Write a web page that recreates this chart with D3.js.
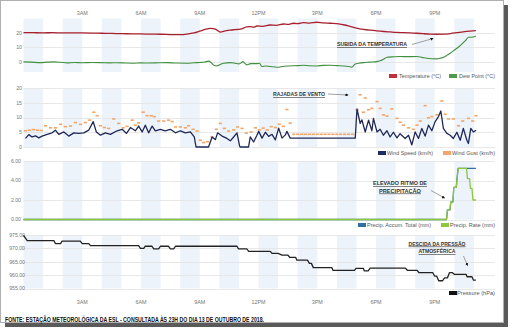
<!DOCTYPE html>
<html><head><meta charset="utf-8">
<script src="https://cdn.jsdelivr.net/npm/d3@7"></script>
<style>
html,body{margin:0;padding:0;background:#fff;}
svg{display:block;}
text{font-family:"Liberation Sans",Arial,sans-serif;}
.ann{font-family:"Liberation Sans Narrow","Liberation Sans",Arial,sans-serif;font-weight:bold;fill:#333;text-decoration:underline;}
</style></head><body>
<svg id="c" width="512" height="330"></svg>
<script>
// ---------------- DATA ----------------
const hourTicks = [3, 6, 9, 12, 15, 18, 21];
const hourLabels = ["3AM", "6AM", "9AM", "12PM", "3PM", "6PM", "9PM"];

const tempTicks = [0, 10, 20];
const windTicks = [0, 5, 10, 15, 20];
const precipTicks = [0, 2, 4, 6];
const pressTicks = [955, 960, 965, 970, 975];

const temperature = [[0,20.3],[0.5,20.2],[1,20.1],[1.5,20.2],[2,20.0],[2.5,20.1],[3,20.0],[3.5,19.9],[4,19.8],[4.5,19.7],[5,19.5],[5.5,19.4],[6,19.3],[6.5,19.2],[7,19.1],[7.5,18.9],[8,18.8],[8.35,19.2],[8.7,20.0],[9.03,21.4],[9.3,22.6],[9.54,23.2],[9.8,22.6],[10.05,20.6],[10.3,21.4],[10.56,22.0],[10.8,22.3],[11.07,22.6],[11.4,24.2],[11.58,24.4],[11.75,24.0],[11.92,24.8],[12.2,24.6],[12.6,25.5],[12.9,25.3],[13.28,26.2],[13.5,25.9],[13.79,26.7],[14.0,26.4],[14.3,27.1],[14.6,26.8],[14.98,27.4],[15.3,27.0],[15.66,26.7],[16.09,26.3],[16.4,25.5],[16.68,24.5],[17.0,23.4],[17.36,22.5],[17.7,21.9],[18.05,21.4],[18.4,21.0],[18.72,20.7],[19.05,20.4],[19.4,20.2],[19.75,20.0],[20.09,19.8],[20.4,19.5],[20.77,19.2],[21.1,19.1],[21.45,19.2],[21.8,19.6],[22.13,20.2],[22.45,20.8],[22.8,21.3],[23.1,21.6]];

const dewPoint = [[0,0],[0.4,-0.2],[0.87,-0.5],[1.2,-0.2],[1.55,0],[1.9,-0.3],[2.23,-0.7],[2.6,-0.4],[3.0,-0.6],[3.5,-0.4],[3.93,-0.5],[4.4,-0.7],[4.8,-0.6],[5.2,-0.8],[5.63,-0.9],[6.0,-0.7],[6.4,-0.8],[6.9,-0.6],[7.33,-0.5],[7.8,-0.8],[8.35,-0.9],[8.7,-0.6],[9.03,-0.4],[9.25,-0.1],[9.46,0.5],[9.6,-0.8],[9.7,-2.1],[9.88,-2.8],[10.05,-1.8],[10.22,-0.9],[10.56,-0.5],[10.8,-0.9],[10.99,-1.4],[11.1,-0.8],[11.2,0.2],[11.3,-1.0],[11.4,-2.1],[11.6,-1.2],[11.92,-1.2],[12.05,-1.0],[12.18,-3.2],[12.35,-2.8],[12.6,-3.2],[12.94,-3.7],[13.3,-3.0],[13.62,-2.8],[14.0,-2.6],[14.3,-2.3],[14.6,-2.7],[14.98,-2.8],[15.3,-2.4],[15.66,-2.3],[16.0,-2.6],[16.34,-2.8],[16.6,-3.2],[16.77,-3.7],[16.94,-1.4],[17.1,-1.0],[17.36,-0.5],[17.7,-0.2],[18.05,0.2],[18.25,0.9],[18.38,1.8],[18.56,3.2],[18.9,3.5],[19.23,3.7],[19.6,3.6],[20.09,3.7],[20.35,3.1],[20.6,2.5],[20.85,2.2],[21.1,2.1],[21.3,2.6],[21.45,3.2],[21.62,4.5],[21.79,6.0],[21.95,7.6],[22.13,9.4],[22.3,11.2],[22.46,13.3],[22.6,15.3],[22.72,17.0],[22.89,17.0],[23.1,17.9]];

const windSpeed = [[0.10,2.9],[0.27,4.2],[0.44,3.4],[0.61,3.8],[0.78,3.1],[0.95,3.7],[1.21,4.3],[1.46,4.8],[1.63,5.7],[1.80,4.3],[2.06,5.1],[2.31,3.7],[2.57,4.8],[2.82,4.6],[3.08,4.8],[3.33,5.7],[3.56,8.6],[3.72,5.1],[3.93,4.0],[4.18,4.8],[4.44,4.3],[4.78,5.5],[5.04,6.0],[5.26,4.6],[5.46,6.6],[5.71,5.5],[5.88,7.1],[6.06,5.1],[6.22,7.4],[6.39,4.8],[6.57,7.1],[6.73,5.5],[6.99,6.0],[7.24,5.5],[7.50,6.0],[7.76,4.8],[8.01,5.5],[8.27,4.8],[8.52,5.1],[8.72,3.4],[8.81,0],[9.45,0],[9.63,3.4],[9.80,2.5],[9.91,4.8],[10.14,3.7],[10.39,2.9],[10.56,2.1],[10.73,3.4],[10.90,4.8],[11.04,0.2],[11.07,0],[11.49,0],[11.58,3.4],[11.75,1.7],[11.92,4.0],[12.01,5.3],[12.18,3.0],[12.35,5.0],[12.52,3.6],[12.69,4.3],[12.86,2.4],[13.03,6.4],[13.20,3.0],[13.37,4.1],[13.45,5.3],[13.62,3.0],[16.94,3.0],[17.03,12.9],[17.19,8.0],[17.28,9.2],[17.45,5.1],[17.62,9.1],[17.79,5.5],[17.87,9.7],[18.05,5.1],[18.21,6.0],[18.38,4.0],[18.56,5.5],[18.72,3.4],[18.89,5.0],[19.07,3.1],[19.23,4.5],[19.49,2.9],[19.66,4.0],[19.83,0.7],[20.0,5.1],[20.17,2.9],[20.34,6.3],[20.51,3.7],[20.68,7.4],[20.85,5.5],[21.02,8.6],[21.19,10.3],[21.31,12.2],[21.44,6.3],[21.62,4.6],[21.79,4.0],[21.95,2.9],[22.13,5.0],[22.30,2.3],[22.46,6.3],[22.64,2.3],[22.72,1.2],[22.84,6.3],[22.97,5.1],[23.11,5.7]];

const windGust = [[0.10,5.5],[0.31,5.7],[0.51,5.9],[0.71,5.7],[0.92,5.6],[1.12,7.2],[1.38,6.5],[1.63,6.5],[1.89,7.7],[2.14,6.9],[2.40,7.1],[2.65,8.3],[2.91,7.7],[3.16,8.3],[3.38,9.1],[3.59,11.8],[3.76,10.6],[3.93,7.2],[4.13,6.6],[4.35,6.3],[4.61,9.5],[4.86,8.0],[5.09,6.5],[5.29,7.0],[5.55,9.1],[5.71,7.4],[5.88,8.2],[6.11,11.8],[6.31,10.6],[6.52,10.6],[6.68,10.3],[6.90,8.8],[7.16,8.8],[7.41,9.1],[7.59,8.6],[7.76,6.8],[8.01,6.8],[8.27,6.5],[8.43,7.2],[8.66,6.0],[8.86,5.4],[9.03,2.3],[9.20,1.5],[9.40,1.8],[9.63,3.4],[9.85,6.0],[10.05,8.0],[10.26,6.3],[10.47,5.4],[10.73,5.8],[10.93,6.8],[11.16,6.3],[11.38,4.7],[11.62,5.1],[11.84,6.5],[12.04,5.8],[12.24,6.4],[12.45,5.8],[12.65,6.9],[12.86,6.6],[13.06,7.7],[13.27,7.0],[13.45,12.7],[13.62,8.1],[13.8,4.3],[14.0,4.3],[14.2,4.3],[14.4,4.3],[14.6,4.3],[14.8,4.3],[15.0,4.3],[15.2,4.3],[15.4,4.3],[15.6,4.3],[15.8,4.3],[16.0,4.3],[16.2,4.3],[16.4,4.3],[16.6,4.3],[16.8,4.3],[17.03,12.6],[17.19,17.7],[17.36,11.8],[17.45,16.6],[17.62,12.6],[17.79,13.1],[18.05,15.4],[18.21,13.1],[18.38,10.9],[18.56,10.5],[18.81,12.9],[19.07,9.7],[19.23,8.4],[19.40,7.4],[19.66,6.5],[19.91,6.0],[20.09,7.4],[20.26,8.8],[20.51,14.0],[20.68,9.9],[20.85,10.3],[21.11,10.9],[21.36,15.6],[21.53,11.1],[21.70,9.5],[21.95,9.5],[22.21,7.2],[22.43,8.8],[22.72,9.7],[22.94,8.8],[23.11,10.6]];

const precipAccum = [[0,0],[21.6,0],[21.65,1.0],[21.78,1.0],[21.82,1.8],[21.93,1.8],[21.97,3.3],[22.1,3.3],[22.14,4.2],[22.19,5.25],[23.1,5.25]];
const precipRate = [[0,0],[21.6,0],[21.65,1.0],[21.78,1.0],[21.82,1.8],[21.93,1.8],[21.97,3.3],[22.1,3.3],[22.14,4.2],[22.2,5.25],[22.62,5.25],[22.67,4.2],[22.78,4.2],[22.82,3.2],[22.9,3.2],[22.95,2.0],[23.1,2.0]];

const pressure = [[0.0,974.9],[0.19,972.9],[1.55,972.9],[1.63,971.8],[1.89,971.8],[1.97,972.7],[2.9,972.7],[3.0,971.8],[3.33,971.8],[3.42,971.0],[5.88,971.0],[5.97,970.0],[6.14,970.0],[6.22,970.8],[6.56,970.8],[6.65,969.8],[6.9,969.8],[6.99,970.8],[7.4,970.8],[7.5,969.8],[7.67,969.8],[7.76,970.8],[10.9,970.8],[10.98,969.8],[11.4,969.8],[11.5,968.9],[12.6,968.9],[12.7,968.1],[13.0,968.1],[13.2,967.5],[13.5,967.5],[13.6,966.6],[13.9,966.6],[13.96,965.6],[14.5,965.6],[14.6,964.4],[14.7,964.4],[14.8,962.8],[15.75,962.8],[15.8,961.8],[16.9,961.8],[16.98,962.5],[17.36,962.5],[17.4,961.6],[17.6,961.6],[17.7,962.6],[19.5,962.6],[19.6,961.8],[20.1,961.8],[20.2,960.9],[20.9,960.9],[21.0,959.6],[21.1,959.6],[21.2,957.9],[21.4,957.9],[21.5,959.0],[21.65,959.0],[21.75,960.9],[21.9,960.9],[22.0,960.3],[22.6,960.3],[22.65,959.4],[22.9,959.4],[22.98,958.1],[23.1,958.1]];

// ---------------- DRAW ----------------
const svg = d3.select("#c");

// frame + shadow
svg.append("rect").attr("x",5).attr("y",5).attr("width",503).attr("height",322).attr("fill","#5a5a5a");
svg.append("rect").attr("x",0.5).attr("y",0.5).attr("width",503).attr("height",322).attr("fill","#fff").attr("stroke","#b0b0b0");

const x = d3.scaleLinear().domain([0, 24]).range([23.5, 493.5]);
const plotL = 23.5, plotR = 495;

const panels = [
  {domain:[-7,30], range:[72,18.5], ticks:tempTicks, fmt:d=>d, labelX:22},
  {domain:[0,20], range:[147,88], ticks:windTicks, fmt:d=>d, labelX:22},
  {domain:[0,6], range:[219.5,161], ticks:precipTicks, fmt:d3.format(".2f"), labelX:21},
  {domain:[955,975], range:[288.5,235], ticks:pressTicks, fmt:d3.format(".2f"), labelX:25}
];
panels.forEach(p => { p.y = d3.scaleLinear().domain(p.domain).range(p.range); });

panels.forEach(p => {
  const g = svg.append("g");
  const top = p.range[1], bot = p.range[0];
  // bands (even hours)
  const bands = d3.range(0, 24, 2);
  g.selectAll("rect.band").data(bands).join("rect")
    .attr("x", d => x(d)).attr("width", d => x(d+1) - x(d))
    .attr("y", top).attr("height", bot - top)
    .attr("fill", "#edf3fa");
  // grid
  g.selectAll("line.grid").data(p.ticks).join("line")
    .attr("x1", plotL).attr("x2", plotR)
    .attr("y1", d => Math.round(p.y(d)) + 0.5).attr("y2", d => Math.round(p.y(d)) + 0.5)
    .attr("stroke", "#e2e2e2").attr("stroke-width", 0.8);
  // labels
  g.selectAll("text.tick").data(p.ticks).join("text")
    .attr("x", p.labelX).attr("y", d => p.y(d) + 1.8)
    .attr("text-anchor", "end").attr("font-size", 5.2).attr("fill", "#777")
    .text(p.fmt);
});

// x axis labels top & bottom
[13, 302].forEach(yy => {
  svg.append("g").selectAll("text").data(hourTicks).join("text")
    .attr("x", d => x(d)).attr("y", yy + 2)
    .attr("text-anchor", "middle").attr("font-size", 5.4).attr("fill", "#777")
    .text((d, i) => hourLabels[i]);
});

function drawLine(data, p, color, w, curve) {
  const line = d3.line().x(d => x(d[0])).y(d => p.y(d[1])).curve(curve || d3.curveLinear);
  svg.append("path").datum(data).attr("d", line)
    .attr("fill", "none").attr("stroke", color).attr("stroke-width", w)
    .attr("stroke-linejoin", "round");
}

// panel 1
drawLine(temperature, panels[0], "#a8202e", 1.3, d3.curveMonotoneX);
drawLine(dewPoint, panels[0], "#3f8f3f", 1.1, d3.curveMonotoneX);
// panel 2
svg.append("g").selectAll("rect").data(windGust).join("rect")
  .attr("x", d => x(d[0]) - 1.6).attr("y", d => panels[1].y(d[1]) - 0.8)
  .attr("width", 3.2).attr("height", 1.6).attr("fill", "#f2a66a");
drawLine(windSpeed, panels[1], "#1e2858", 1.3);
// panel 3
drawLine(precipAccum, panels[2], "#2f6fa3", 1.3);
drawLine(precipRate, panels[2], "#8dc63f", 1.3);
// panel 4
drawLine(pressure, panels[3], "#222", 1.3);

// legends
const legends = [
  {y:76, items:[["#c0303c",389,"Temperature (°C)",399,42],["#4f9a4f",449,"Dew Point (°C)",459,36]]},
  {y:153, items:[["#1e2a66",378,"Wind Speed (km/h)",387,46],["#f2a66a",443,"Wind Gust (km/h)",452,43]]},
  {y:225, items:[["#2f6fa3",358,"Precip. Accum. Total (mm)",367,64],["#8dc63f",441,"Precip. Rate (mm)",450,45]]},
  {y:293, items:[["#111",449,"Pressure (hPa)",457,38]]}
];
legends.forEach(L => {
  L.items.forEach(it => {
    svg.append("rect").attr("x", it[1]).attr("y", L.y - 2).attr("width", 8).attr("height", 4).attr("fill", it[0]);
    svg.append("text").attr("x", it[3]).attr("y", L.y + 2).attr("font-size", 5.6).attr("fill", "#555")
      .attr("textLength", it[4]).attr("lengthAdjust", "spacingAndGlyphs").text(it[2]);
  });
});

// annotations
svg.append("defs").append("marker").attr("id","ah").attr("viewBox","0 0 10 10")
  .attr("refX",8).attr("refY",5).attr("markerWidth",4).attr("markerHeight",4).attr("orient","auto")
  .append("path").attr("d","M0,0L10,5L0,10z").attr("fill","#111");

function ann(lines, cx, ys, widths, arrow) {
  lines.forEach((t, i) => {
    svg.append("text").attr("class","ann").attr("x", cx).attr("y", ys[i])
      .attr("text-anchor","middle").attr("font-size", 6)
      .attr("textLength", widths[i]).attr("lengthAdjust","spacingAndGlyphs").text(t);
  });
  svg.append("line").attr("x1",arrow[0]).attr("y1",arrow[1]).attr("x2",arrow[2]).attr("y2",arrow[3])
    .attr("stroke","#888").attr("stroke-width",0.8).attr("marker-end","url(#ah)");
}
ann(["SUBIDA DA TEMPERATURA"], 372, [46], [70], [412,44.5,433,38.5]);
ann(["RAJADAS DE VENTO"], 299, [96], [52], [328,94,348,95]);
ann(["ELEVADO RITMO DE","PRECIPITAÇÃO"], 400, [185, 192.5], [54, 42], [431,190.5,444.5,198]);
ann(["DESCIDA DA PRESSÃO","ATMOSFÉRICA"], 437, [245.5, 253], [57, 37], [463.5,256,467.5,265.5]);

// footer
svg.append("text").attr("x", 5).attr("y", 321.5).attr("font-size", 7).attr("font-weight","bold")
  .attr("fill","#111").attr("font-family","Liberation Sans Narrow, Liberation Sans, Arial, sans-serif")
  .attr("textLength", 259).attr("lengthAdjust","spacingAndGlyphs")
  .text("FONTE: ESTAÇÃO METEOROLÓGICA DA ESL - CONSULTADA ÀS 23H DO DIA 13 DE OUTUBRO DE 2018.");
</script>
</body></html>
